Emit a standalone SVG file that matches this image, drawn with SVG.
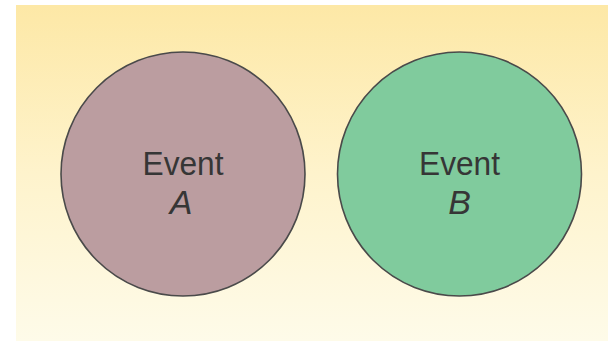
<svg xmlns="http://www.w3.org/2000/svg" width="608" height="341" viewBox="0 0 608 341">
<defs>
<linearGradient id="bg" x1="0" y1="0" x2="0" y2="1">
<stop offset="0" stop-color="#fde8a6"/>
<stop offset="0.5" stop-color="#fef3cc"/>
<stop offset="1" stop-color="#fefbe9"/>
</linearGradient>
<style>
.c{stroke:#4a4a4a;stroke-width:1.6}
.t{font-family:"Liberation Sans",Arial,sans-serif;font-size:34px;fill:#363636;text-anchor:middle}
.i{font-style:italic}
</style>
</defs>
<rect x="0" y="0" width="608" height="341" fill="#ffffff"/>
<rect x="16" y="5" width="592" height="336" fill="url(#bg)"/>
<g id="eventA">
<ellipse class="c" cx="183" cy="174" rx="122" ry="122" fill="#bb9da0"/>
<text class="t" x="183" y="175" textLength="81" lengthAdjust="spacingAndGlyphs">Event</text>
<text class="t i" x="181" y="214">A</text>
</g>
<g id="eventB">
<ellipse class="c" cx="459.5" cy="174" rx="122" ry="122" fill="#80cb9d"/>
<text class="t" x="459.5" y="175" textLength="81" lengthAdjust="spacingAndGlyphs">Event</text>
<text class="t i" x="459.5" y="214">B</text>
</g>
<g id="connectors"/>
</svg>
